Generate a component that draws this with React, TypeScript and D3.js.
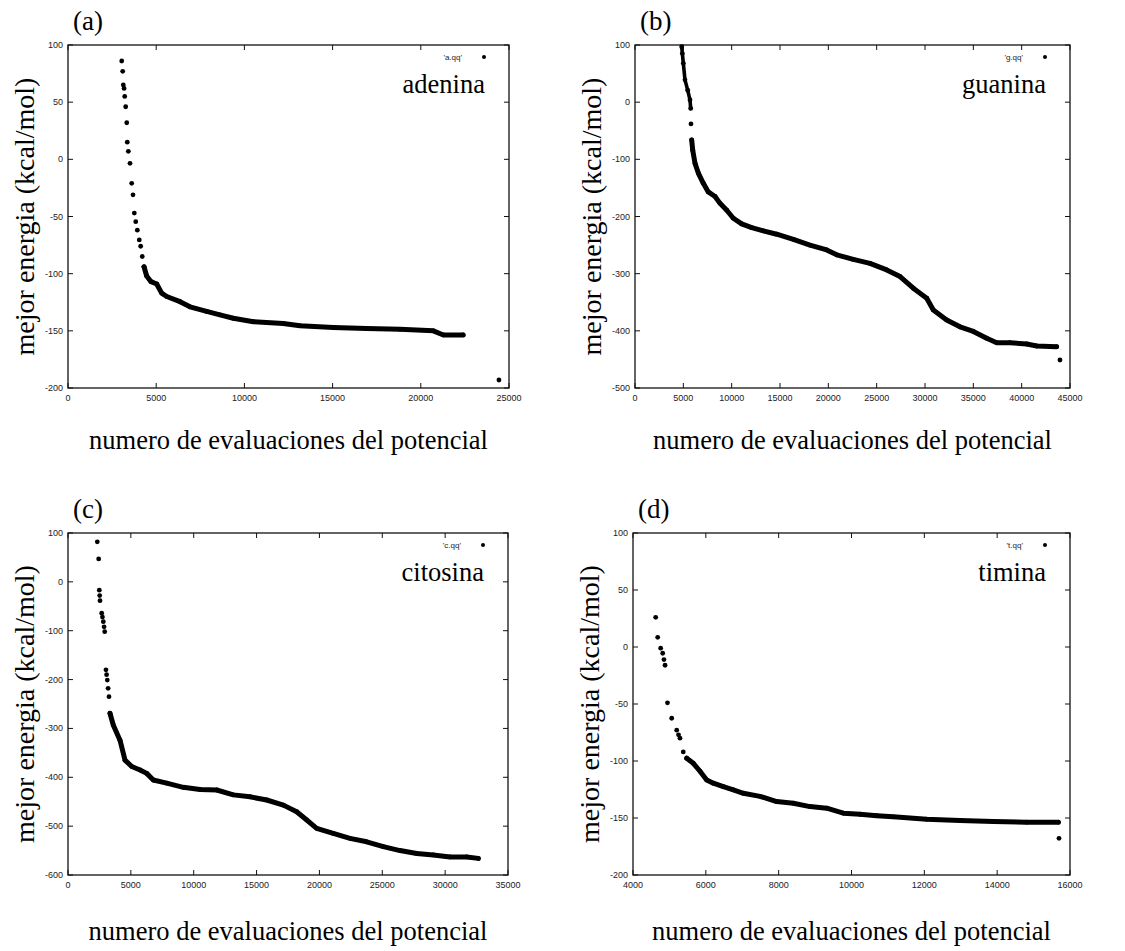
import React from "react";
import * as d3 from "d3";

type Pt = [number, number];

// ---------- data ----------
// (a) adenina
const adeninaDots: Pt[] = [
  [3045, 86], [3100, 77], [3135, 65], [3180, 62], [3215, 55], [3270, 46], [3330, 32], [3360, 15],
  [3420, 7], [3515, -3.5], [3610, -21], [3685, -31], [3760, -47], [3840, -54.5], [3930, -62],
  [4040, -70.5], [4120, -76], [4210, -85], [4310, -94],
];
const adeninaCurve: Pt[] = [
  [4310, -94], [4460, -102], [4705, -107], [5030, -109], [5310, -117], [5595, -120], [6350, -124.5],
  [6915, -129], [7860, -133], [8615, -136], [9370, -139], [10505, -142], [12205, -143.5],
  [13150, -145.5], [15040, -147], [16930, -148], [18820, -148.7], [20710, -150], [21280, -153.6],
  [22400, -153.6],
];
const adeninaOutlier: Pt[] = [[24430, -193]];

// (b) guanina
const guaninaTop: Pt[] = [
  [4830, 97], [4900, 85], [5000, 68], [5170, 39], [5450, 21], [5690, 4], [5760, -11],
];
const guaninaDots: Pt[] = [[5790, -38]];
const guaninaCurve: Pt[] = [
  [5865, -66], [5970, -84], [6210, -107], [6550, -124], [7070, -142], [7580, -157], [8280, -165],
  [8795, -177], [9490, -189], [10170, -203], [11040, -213], [12070, -219.5], [13270, -225],
  [14660, -231], [16380, -240], [18100, -250], [19830, -258.5], [20870, -267], [22580, -275],
  [24310, -282], [26040, -293.5], [27420, -305], [28790, -325.5], [30180, -343], [30860, -363.5],
  [32240, -381], [33620, -393], [35000, -401], [36380, -413], [37420, -420.7], [38790, -420.7],
  [40520, -423], [41560, -426.5], [43620, -427.7],
];
const guaninaOutlier: Pt[] = [[43960, -451]];

// (c) citosina
const citosinaDots: Pt[] = [
  [2330, 82], [2440, 47], [2490, -17], [2520, -28], [2545, -38.6], [2680, -64], [2740, -72],
  [2810, -81.5], [2870, -92], [2920, -102], [3020, -180], [3070, -190], [3125, -201],
  [3190, -218], [3260, -235],
];
const citosinaCurve: Pt[] = [
  [3340, -269], [3600, -293], [4135, -324], [4535, -365], [5070, -378], [5730, -385], [6260, -392],
  [6785, -405.6], [7850, -412], [9170, -420.6], [10500, -425], [11830, -426], [13150, -436],
  [14480, -440], [15810, -446.5], [17130, -457], [18190, -470.5], [18990, -487.5], [19780, -504.5],
  [21100, -515], [22430, -525], [23760, -532], [25080, -542], [26410, -550], [27740, -556],
  [29060, -559], [30390, -563], [31720, -563], [32640, -566],
];

// (d) timina
const timinaDots: Pt[] = [
  [4623, 26], [4678, 8.5], [4760, -1], [4815, -5.5], [4850, -11], [4880, -16], [4947, -49],
  [5063, -62.5], [5200, -73], [5250, -77], [5290, -80], [5380, -92],
];
const timinaCurve: Pt[] = [
  [5475, -97.6], [5656, -102], [5840, -109], [6024, -116.6], [6205, -119.5], [6480, -122.5],
  [6755, -125.4], [7030, -128.3], [7488, -131], [7946, -135.6], [8402, -137], [8860, -140],
  [9319, -141.4], [9775, -145.8], [10233, -146.7], [10692, -148], [11148, -149], [12065, -151],
  [12980, -152.3], [13894, -153], [14811, -153.7], [15679, -153.7],
];
const timinaOutlier: Pt[] = [[15698, -167.8]];

const panelLetters = ["(a)", "(b)", "(c)", "(d)"];
const baseNames = ["adenina", "guanina", "citosina", "timina"];
const legendKeys = ["'a.qq'", "'g.qq'", "'c.qq'", "'t.qq'"];
const xDomains: Pt[] = [[0, 25000], [0, 45000], [0, 35000], [4000, 16000]];
const yDomains: Pt[] = [[-200, 100], [-500, 100], [-600, 100], [-200, 100]];
const xSteps = [5000, 5000, 5000, 2000];
const ySteps = [50, 100, 100, 50];
const xLabel = "numero de evaluaciones del potencial";
const yLabel = "mejor energia (kcal/mol)";

// ---------- layout ----------
const boxes = [
  { l: 68, r: 509, t: 45, b: 388 },
  { l: 635, r: 1070, t: 45, b: 388 },
  { l: 68, r: 508, t: 533, b: 875 },
  { l: 633, r: 1070, t: 533, b: 875 },
];

const serif = "'Liberation Serif', 'Times New Roman', serif";
const sans = "'Liberation Sans', Arial, sans-serif";

function Panel({ i, dots, curves, thin }: { i: number; dots: Pt[]; curves: Pt[][]; thin: Pt[][] }) {
  const bx = boxes[i];
  const x = d3.scaleLinear().domain(xDomains[i]).range([bx.l, bx.r]);
  const y = d3.scaleLinear().domain(yDomains[i]).range([bx.b, bx.t]);
  const xt = d3.range(xDomains[i][0], xDomains[i][1] + 1, xSteps[i]);
  const yt = d3.range(yDomains[i][0], yDomains[i][1] + 1, ySteps[i]);
  const line = d3.line<Pt>().x((d) => x(d[0])).y((d) => y(d[1]));
  const tl = 5;
  const cx = (bx.l + bx.r) / 2;
  const cy = (bx.t + bx.b) / 2;
  const isTop = i < 2;
  return (
    <g>
      {/* frame */}
      <rect x={bx.l} y={bx.t} width={bx.r - bx.l} height={bx.b - bx.t} fill="none" stroke="#111" strokeWidth={1.3} />
      {xt.map((v) => (
        <g key={"x" + v}>
          <line x1={x(v)} x2={x(v)} y1={bx.b} y2={bx.b - tl} stroke="#111" strokeWidth={1} />
          <line x1={x(v)} x2={x(v)} y1={bx.t} y2={bx.t + tl} stroke="#111" strokeWidth={1} />
          <text x={x(v)} y={bx.b + 13} fontSize={9} fontFamily={sans} textAnchor="middle" fill="#222">{v}</text>
        </g>
      ))}
      {yt.map((v) => (
        <g key={"y" + v}>
          <line x1={bx.l} x2={bx.l + tl} y1={y(v)} y2={y(v)} stroke="#111" strokeWidth={1} />
          <line x1={bx.r} x2={bx.r - tl} y1={y(v)} y2={y(v)} stroke="#111" strokeWidth={1} />
          <text x={bx.l - 5} y={y(v) + 3} fontSize={9} fontFamily={sans} textAnchor="end" fill="#222">{v}</text>
        </g>
      ))}
      {/* data */}
      {thin.map((c, k) => (
        <path key={"t" + k} d={line(c) || ""} fill="none" stroke="#000" strokeWidth={3.6} strokeLinecap="round" strokeLinejoin="round" />
      ))}
      {curves.map((c, k) => (
        <path key={"c" + k} d={line(c) || ""} fill="none" stroke="#000" strokeWidth={5} strokeLinecap="round" strokeLinejoin="round" />
      ))}
      {dots.map((d, k) => (
        <circle key={"d" + k} cx={x(d[0])} cy={y(d[1])} r={2.4} fill="#000" />
      ))}
      {/* legend */}
      <text x={bx.r - 47} y={bx.t + 15} fontSize={8} fontFamily={sans} textAnchor="end" fill="#222">{legendKeys[i]}</text>
      <circle cx={bx.r - 25} cy={bx.t + 12} r={2} fill="#000" />
      {/* base name */}
      <text x={bx.r - 24} y={bx.t + 48} fontSize={26.5} fontFamily={serif} textAnchor="end" fill="#000">{baseNames[i]}</text>
      {/* panel letter */}
      <text x={bx.l + 5} y={bx.t - 15} fontSize={27} fontFamily={serif} fill="#000">{panelLetters[i]}</text>
      {/* axis titles */}
      <text x={cx} y={isTop ? 449 : 940} fontSize={26.5} fontFamily={serif} textAnchor="middle" fill="#000">{xLabel}</text>
      <text transform={`translate(${bx.l - 34},${cy}) rotate(-90)`} fontSize={28} fontFamily={serif} textAnchor="middle" fill="#000">{yLabel}</text>
    </g>
  );
}

export default function App() {
  return (
    <svg width={1125} height={951} style={{ position: "absolute", left: 0, top: 0, background: "#fff" }}>
      <rect width={1125} height={951} fill="#fff" />
      <Panel i={0} dots={[...adeninaDots, ...adeninaCurve, ...adeninaOutlier]} curves={[adeninaCurve]} thin={[]} />
      <Panel i={1} dots={[...guaninaTop, ...guaninaDots, ...guaninaCurve, ...guaninaOutlier]} curves={[guaninaCurve]} thin={[guaninaTop]} />
      <Panel i={2} dots={[...citosinaDots, ...citosinaCurve]} curves={[citosinaCurve]} thin={[]} />
      <Panel i={3} dots={[...timinaDots, ...timinaCurve, ...timinaOutlier]} curves={[timinaCurve]} thin={[]} />
    </svg>
  );
}
